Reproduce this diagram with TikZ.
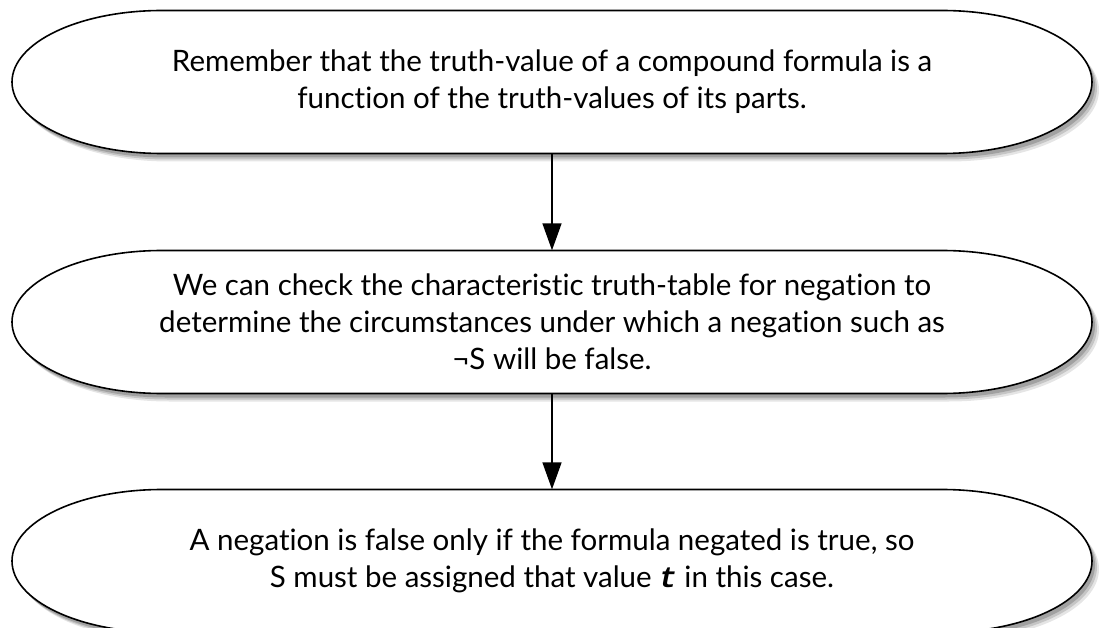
\documentclass[tikz,border=0pt]{standalone}
\usepackage{fontspec}
\setmainfont{Lato}[RawFeature={-liga;-dlig;-clig}]
\newfontfamily\tfont{Liberation Mono}
\usetikzlibrary{arrows.meta,backgrounds}
\newcommand\capsuleshape{%
  \foreach \d/\o in {7/0.10,5/0.14,3/0.18}{%
    \fill[black,opacity=\o] ([shift={(\d pt,{-\d pt-1pt})}]-390pt,71.5pt) -- ++(780pt,0pt)
      arc[start angle=90,end angle=-90,x radius=150pt,y radius=71.5pt] -- ++(-780pt,0pt)
      arc[start angle=270,end angle=90,x radius=150pt,y radius=71.5pt] -- cycle;}
  \draw[capsule] (-390pt,71.5pt) -- (390pt,71.5pt)
      arc[start angle=90,end angle=-90,x radius=150pt,y radius=71.5pt] -- (-390pt,-71.5pt)
      arc[start angle=270,end angle=90,x radius=150pt,y radius=71.5pt] -- cycle;}
\newcommand\drawcapsule[1]{%
  \begin{scope}[shift={(#1.center)}]\capsuleshape\end{scope}}
\tikzset{
  capsule/.style={draw=black,line width=1.6pt,fill=white},
  box/.style={draw=none,minimum width=1080pt,minimum height=143pt,inner sep=0pt,
    align=center,font=\fontsize{29.5pt}{37pt}\selectfont},
  arr/.style={line width=1.6pt,-{Triangle[width=19pt,length=27pt]}}
}
\begin{document}
\begin{tikzpicture}[x=1pt,y=1pt]
\useasboundingbox (0,0) rectangle (1103,-628);
\node[box] (n1) at (552,-82) {Remember that the truth-value of a compound formula is a\\function of the truth-values of its parts.};
\node[box] (n2) at (552,-322) {We can check the characteristic truth-table for negation to\\determine the circumstances under which a negation such as\\¬S will be false.};
\node[box] (n3) at (552,-561) {A negation is false only if the formula negated is true, so\\S must be assigned that value {\tfont\bfseries\itshape t} in this case.};
\begin{pgfonlayer}{background}
\drawcapsule{n1}
\drawcapsule{n2}
\drawcapsule{n3}
\end{pgfonlayer}
\draw[arr] (n1.south) -- (n2.north);
\draw[arr] (n2.south) -- (n3.north);
\end{tikzpicture}
\end{document}
